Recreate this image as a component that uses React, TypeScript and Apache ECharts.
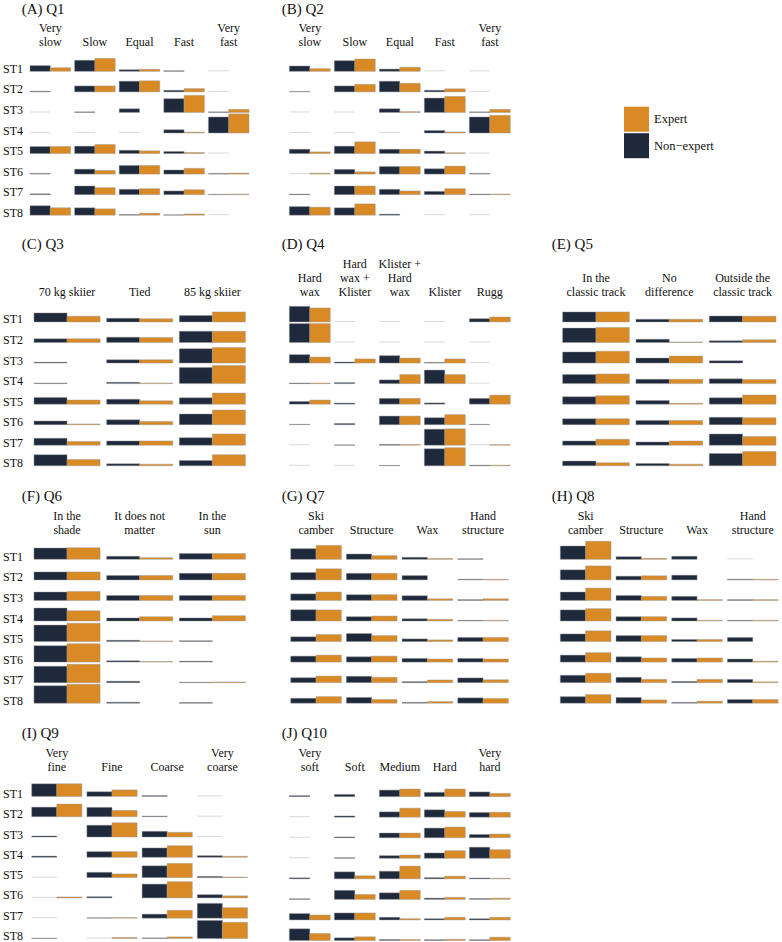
import React, { useEffect, useRef } from "react";
import * as echarts from "echarts";

const stations = ["ST1", "ST2", "ST3", "ST4", "ST5", "ST6", "ST7", "ST8"];
const seriesNames = ["Non\u2212expert", "Expert"];

const q1Options = ["Very\nslow", "Slow", "Equal", "Fast", "Very\nfast"];
const q1NonExpert = [
  [0.28, 0.54, 0.08, 0.03, 0],
  [0.03, 0.29, 0.52, 0.08, 0],
  [0, 0.03, 0.18, 0.67, 0.03],
  [0, 0, 0, 0.16, 0.78],
  [0.34, 0.36, 0.16, 0.1, 0],
  [0.03, 0.24, 0.42, 0.2, 0.03],
  [0.04, 0.42, 0.26, 0.18, 0.02],
  [0.46, 0.36, 0.03, 0.02, 0],
];
const q1Expert = [
  [0.18, 0.63, 0.1, 0, 0],
  [0, 0.29, 0.54, 0.16, 0],
  [0, 0, 0, 0.83, 0.15],
  [0, 0, 0, 0.04, 0.93],
  [0.34, 0.44, 0.13, 0.05, 0],
  [0, 0.18, 0.42, 0.28, 0.05],
  [0, 0.34, 0.29, 0.24, 0.03],
  [0.36, 0.31, 0.1, 0.06, 0],
];

const q2Options = ["Very\nslow", "Slow", "Equal", "Fast", "Very\nfast"];
const q2NonExpert = [
  [0.26, 0.52, 0.11, 0, 0],
  [0.02, 0.29, 0.52, 0.08, 0],
  [0, 0, 0.18, 0.7, 0.03],
  [0, 0, 0, 0.12, 0.78],
  [0.21, 0.36, 0.21, 0.12, 0],
  [0, 0.23, 0.37, 0.26, 0.03],
  [0.03, 0.42, 0.26, 0.16, 0.03],
  [0.42, 0.36, 0.05, 0, 0],
];
const q2Expert = [
  [0.13, 0.6, 0.2, 0, 0],
  [0, 0.37, 0.42, 0.15, 0],
  [0, 0, 0.04, 0.78, 0.15],
  [0, 0, 0, 0.05, 0.86],
  [0.08, 0.57, 0.21, 0.04, 0],
  [0.04, 0.11, 0.37, 0.39, 0],
  [0, 0.42, 0.18, 0.29, 0.03],
  [0.39, 0.55, 0, 0, 0],
];

const q3Options = ["70 kg skiier", "Tied", "85 kg skiier"];
const q3NonExpert = [
  [0.44, 0.18, 0.31],
  [0.18, 0.26, 0.55],
  [0.04, 0.16, 0.7],
  [0.03, 0.06, 0.78],
  [0.32, 0.24, 0.31],
  [0.18, 0.24, 0.52],
  [0.34, 0.21, 0.37],
  [0.54, 0.1, 0.26],
];
const q3Expert = [
  [0.28, 0.16, 0.49],
  [0.18, 0.24, 0.55],
  [0, 0.16, 0.76],
  [0, 0.03, 0.88],
  [0.2, 0.16, 0.54],
  [0.04, 0.16, 0.71],
  [0.18, 0.21, 0.55],
  [0.31, 0.08, 0.54],
];

const q4Options = ["Hard\nwax", "Hard\nwax +\nKlister", "Klister +\nHard\nwax", "Klister", "Rugg"];
const q4NonExpert = [
  [0.76, 0, 0, 0, 0.16],
  [0.92, 0, 0, 0, 0],
  [0.41, 0.05, 0.36, 0.03, 0],
  [0.03, 0.05, 0.18, 0.66, 0],
  [0.13, 0.05, 0.28, 0.06, 0.28],
  [0.02, 0.06, 0.42, 0.34, 0.02],
  [0, 0.02, 0.04, 0.78, 0],
  [0, 0, 0.02, 0.83, 0.03],
];
const q4Expert = [
  [0.68, 0, 0, 0, 0.24],
  [0.92, 0, 0, 0, 0],
  [0.29, 0.2, 0.24, 0.2, 0],
  [0.03, 0, 0.44, 0.44, 0],
  [0.2, 0, 0.28, 0, 0.44],
  [0, 0, 0.42, 0.49, 0],
  [0, 0, 0.04, 0.8, 0.03],
  [0, 0, 0, 0.88, 0.03],
];

const q5Options = ["In the\nclassic track", "No\ndifference", "Outside the\nclassic track"];
const q5NonExpert = [
  [0.49, 0.13, 0.29],
  [0.7, 0.16, 0.08],
  [0.54, 0.24, 0.11],
  [0.44, 0.21, 0.23],
  [0.36, 0.18, 0.31],
  [0.29, 0.21, 0.36],
  [0.21, 0.16, 0.55],
  [0.23, 0.11, 0.6],
];
const q5Expert = [
  [0.49, 0.13, 0.28],
  [0.73, 0.03, 0.13],
  [0.58, 0.34, 0],
  [0.47, 0.21, 0.2],
  [0.41, 0.04, 0.44],
  [0.29, 0.21, 0.34],
  [0.29, 0.21, 0.42],
  [0.15, 0.08, 0.7],
];

const q6Options = ["In the\nshade", "It does not\nmatter", "In the\nsun"];
const q6NonExpert = [
  [0.55, 0.15, 0.28],
  [0.39, 0.21, 0.32],
  [0.41, 0.24, 0.24],
  [0.63, 0.15, 0.15],
  [0.8, 0.06, 0.04],
  [0.8, 0.06, 0.04],
  [0.8, 0.07, 0.02],
  [0.85, 0.05, 0.03],
];
const q6Expert = [
  [0.57, 0.08, 0.28],
  [0.39, 0.21, 0.32],
  [0.44, 0.24, 0.24],
  [0.5, 0.21, 0.26],
  [0.89, 0.03, 0],
  [0.89, 0.03, 0],
  [0.89, 0, 0.03],
  [0.92, 0, 0],
];

const q7Options = ["Ski\ncamber", "Structure", "Wax", "Hand\nstructure"];
const q7NonExpert = [
  [0.52, 0.26, 0.1, 0.03],
  [0.36, 0.32, 0.21, 0.03],
  [0.32, 0.28, 0.23, 0.04],
  [0.55, 0.21, 0.11, 0.03],
  [0.23, 0.39, 0.13, 0.2],
  [0.29, 0.26, 0.18, 0.18],
  [0.24, 0.31, 0.05, 0.23],
  [0.24, 0.28, 0.04, 0.26],
];
const q7Expert = [
  [0.68, 0.18, 0.04, 0],
  [0.54, 0.32, 0, 0.03],
  [0.41, 0.28, 0.08, 0.08],
  [0.54, 0.24, 0.08, 0.03],
  [0.34, 0.29, 0.08, 0.2],
  [0.34, 0.29, 0.15, 0.15],
  [0.32, 0.26, 0.13, 0.14],
  [0.32, 0.18, 0.08, 0.23],
];

const q8Options = ["Ski\ncamber", "Structure", "Wax", "Hand\nstructure"];
const q8NonExpert = [
  [0.65, 0.13, 0.15, 0],
  [0.49, 0.18, 0.23, 0.03],
  [0.41, 0.24, 0.2, 0.04],
  [0.54, 0.21, 0.15, 0.03],
  [0.37, 0.29, 0.1, 0.2],
  [0.34, 0.26, 0.18, 0.15],
  [0.36, 0.26, 0.06, 0.16],
  [0.32, 0.28, 0.04, 0.18],
];
const q8Expert = [
  [0.88, 0.05, 0, 0],
  [0.68, 0.2, 0, 0.03],
  [0.6, 0.2, 0.04, 0.04],
  [0.6, 0.21, 0.03, 0.03],
  [0.52, 0.29, 0.1, 0],
  [0.46, 0.2, 0.2, 0.04],
  [0.46, 0.16, 0.16, 0.04],
  [0.42, 0.16, 0.1, 0.18],
];

const q9Options = ["Very\nfine", "Fine", "Coarse", "Very\ncoarse"];
const q9NonExpert = [
  [0.62, 0.23, 0.04, 0],
  [0.47, 0.46, 0.03, 0],
  [0.05, 0.58, 0.28, 0],
  [0.06, 0.28, 0.46, 0.08],
  [0, 0.26, 0.58, 0.06],
  [0, 0.06, 0.68, 0.16],
  [0, 0.02, 0.2, 0.73],
  [0.02, 0, 0.03, 0.89],
];
const q9Expert = [
  [0.62, 0.32, 0, 0],
  [0.62, 0.31, 0, 0],
  [0, 0.7, 0.23, 0],
  [0, 0.28, 0.57, 0.05],
  [0, 0.18, 0.7, 0.03],
  [0.05, 0, 0.8, 0.1],
  [0, 0.03, 0.39, 0.52],
  [0, 0.05, 0.08, 0.8],
];

const q10Options = ["Very\nsoft", "Soft", "Medium", "Hard", "Very\nhard"];
const q10NonExpert = [
  [0.05, 0.11, 0.32, 0.21, 0.23],
  [0, 0.06, 0.26, 0.36, 0.23],
  [0, 0.04, 0.23, 0.47, 0.16],
  [0, 0.03, 0.13, 0.26, 0.54],
  [0.05, 0.34, 0.37, 0.06, 0.04],
  [0.03, 0.44, 0.32, 0.06, 0.04],
  [0.31, 0.34, 0.13, 0.06, 0.06],
  [0.57, 0.13, 0.05, 0.04, 0.04],
];
const q10Expert = [
  [0, 0, 0.37, 0.37, 0.16],
  [0, 0, 0.44, 0.28, 0.24],
  [0, 0, 0.23, 0.52, 0.18],
  [0, 0, 0.16, 0.37, 0.42],
  [0, 0.15, 0.62, 0.13, 0.03],
  [0, 0.24, 0.44, 0.1, 0.06],
  [0.24, 0.34, 0.06, 0.13, 0.13],
  [0.34, 0.18, 0.05, 0.06, 0.16],
];

const DARK = "#1e2a3c";
const ORANGE = "#da8a25";
const FONT = "'Liberation Serif', 'Times New Roman', serif";
const TEXT = "#111111";

const ROW_TOPS = [50.8, 301.4, 538.8, 776.1];
const GRID_H = 164.4;
const TITLE_TOPS = [1.2, 236.5, 488.5, 725.5];

const panels = [
  { title: "(A) Q1", options: q1Options, non: q1NonExpert, exp: q1Expert, row: 0, left: 26, width: 225, tx: 21.7, labels: true },
  { title: "(B) Q2", options: q2Options, non: q2NonExpert, exp: q2Expert, row: 0, left: 287.3, width: 225, tx: 281.7, labels: false },
  { title: "(C) Q3", options: q3Options, non: q3NonExpert, exp: q3Expert, row: 1, left: 28.7, width: 220, tx: 21.7, labels: true },
  { title: "(D) Q4", options: q4Options, non: q4NonExpert, exp: q4Expert, row: 1, left: 287.3, width: 225, tx: 281.7, labels: false },
  { title: "(E) Q5", options: q5Options, non: q5NonExpert, exp: q5Expert, row: 1, left: 559.3, width: 220, tx: 551.7, labels: false },
  { title: "(F) Q6", options: q6Options, non: q6NonExpert, exp: q6Expert, row: 2, left: 28.7, width: 220, tx: 21.7, labels: true },
  { title: "(G) Q7", options: q7Options, non: q7NonExpert, exp: q7Expert, row: 2, left: 288.2, width: 222.7, tx: 281.7, labels: false },
  { title: "(H) Q8", options: q8Options, non: q8NonExpert, exp: q8Expert, row: 2, left: 557.8, width: 222.8, tx: 551.7, labels: false },
  { title: "(I) Q9", options: q9Options, non: q9NonExpert, exp: q9Expert, row: 3, left: 27.2, width: 222.8, tx: 21.7, labels: true },
  { title: "(J) Q10", options: q10Options, non: q10NonExpert, exp: q10Expert, row: 3, left: 287.3, width: 225, tx: 281.7, labels: false },
];

function makeRender(isExpert: boolean, color: string) {
  return (_params: any, api: any) => {
    const cat = api.value(0);
    const row = api.value(1);
    const v = api.value(2);
    const base = api.coord([cat, row + 1]);
    const top = api.coord([cat, row + 1 - v]);
    const band = api.size([1, 0])[0];
    const half = band * 0.455;
    const x = isExpert ? base[0] : base[0] - half;
    if (!(v > 0)) {
      if (isExpert) return null;
      return {
        type: "line",
        shape: { x1: x, y1: base[1] - 0.5, x2: x + half, y2: base[1] - 0.5 },
        style: { stroke: "#d9d9d9", lineWidth: 1 },
      };
    }
    return {
      type: "rect",
      shape: { x: x, y: top[1], width: half, height: base[1] - top[1] },
      style: {
        fill: color,
        stroke: "rgba(150,150,150,0.55)",
        lineWidth: 0.8,
      },
    };
  };
}

function buildOption() {
  const grid: any[] = [];
  const xAxis: any[] = [];
  const yAxis: any[] = [];
  const series: any[] = [];
  const title: any[] = [];

  panels.forEach((p, i) => {
    grid.push({ left: p.left, top: ROW_TOPS[p.row], width: p.width, height: GRID_H, containLabel: false });
    title.push({
      text: p.title,
      left: p.tx,
      top: TITLE_TOPS[p.row],
      padding: 0,
      textStyle: { fontSize: 15, fontWeight: "normal", fontFamily: FONT, color: TEXT },
    });
    xAxis.push({
      gridIndex: i,
      type: "category",
      data: p.options,
      position: "top",
      axisLine: { show: false },
      axisTick: { show: false },
      splitLine: { show: false },
      axisLabel: {
        interval: 0,
        margin: 2,
        fontSize: 12,
        lineHeight: 14,
        fontFamily: FONT,
        color: TEXT,
      },
    });
    yAxis.push({
      gridIndex: i,
      type: "value",
      inverse: true,
      min: 0,
      max: 8,
      interval: 1,
      axisLine: { show: false },
      axisTick: { show: false },
      splitLine: { show: false },
      axisLabel: {
        show: p.labels,
        formatter: (v: number) => (v >= 1 ? stations[Math.round(v) - 1] : ""),
        align: "left",
        margin: p.left - 1,
        verticalAlign: "bottom",
        lineHeight: 5,
        fontSize: 12,
        fontFamily: FONT,
        color: TEXT,
      },
    });
    const nonData: number[][] = [];
    const expData: number[][] = [];
    p.non.forEach((rowVals, r) => rowVals.forEach((v, c) => nonData.push([c, r, v])));
    p.exp.forEach((rowVals, r) => rowVals.forEach((v, c) => expData.push([c, r, v])));
    series.push({
      type: "custom",
      name: seriesNames[0],
      xAxisIndex: i,
      yAxisIndex: i,
      itemStyle: { color: DARK },
      renderItem: makeRender(false, DARK),
      encode: { x: 0, y: 1 },
      data: nonData,
      clip: false,
    });
    series.push({
      type: "custom",
      name: seriesNames[1],
      xAxisIndex: i,
      yAxisIndex: i,
      itemStyle: { color: ORANGE },
      renderItem: makeRender(true, ORANGE),
      encode: { x: 0, y: 1 },
      data: expData,
      clip: false,
    });
  });

  return {
    animation: false,
    backgroundColor: "#ffffff",
    title,
    grid,
    xAxis,
    yAxis,
    series,
    legend: {
      data: [seriesNames[1], seriesNames[0]],
      orient: "vertical",
      left: 624,
      top: 106.7,
      itemWidth: 25,
      itemHeight: 25,
      itemGap: 1.5,
      icon: "rect",
      selectedMode: false,
      padding: 0,
      textStyle: { fontFamily: FONT, fontSize: 12.5, color: TEXT },
    },
  };
}

export default function App() {
  const ref = useRef<HTMLDivElement | null>(null);
  useEffect(() => {
    if (!ref.current) return;
    const chart = echarts.init(ref.current, undefined, { renderer: "svg" });
    chart.setOption(buildOption() as any);
    return () => chart.dispose();
  }, []);
  return (
    <div
      ref={ref}
      style={{ position: "absolute", left: 0, top: 0, width: 782, height: 942, background: "#fff" }}
    />
  );
}
